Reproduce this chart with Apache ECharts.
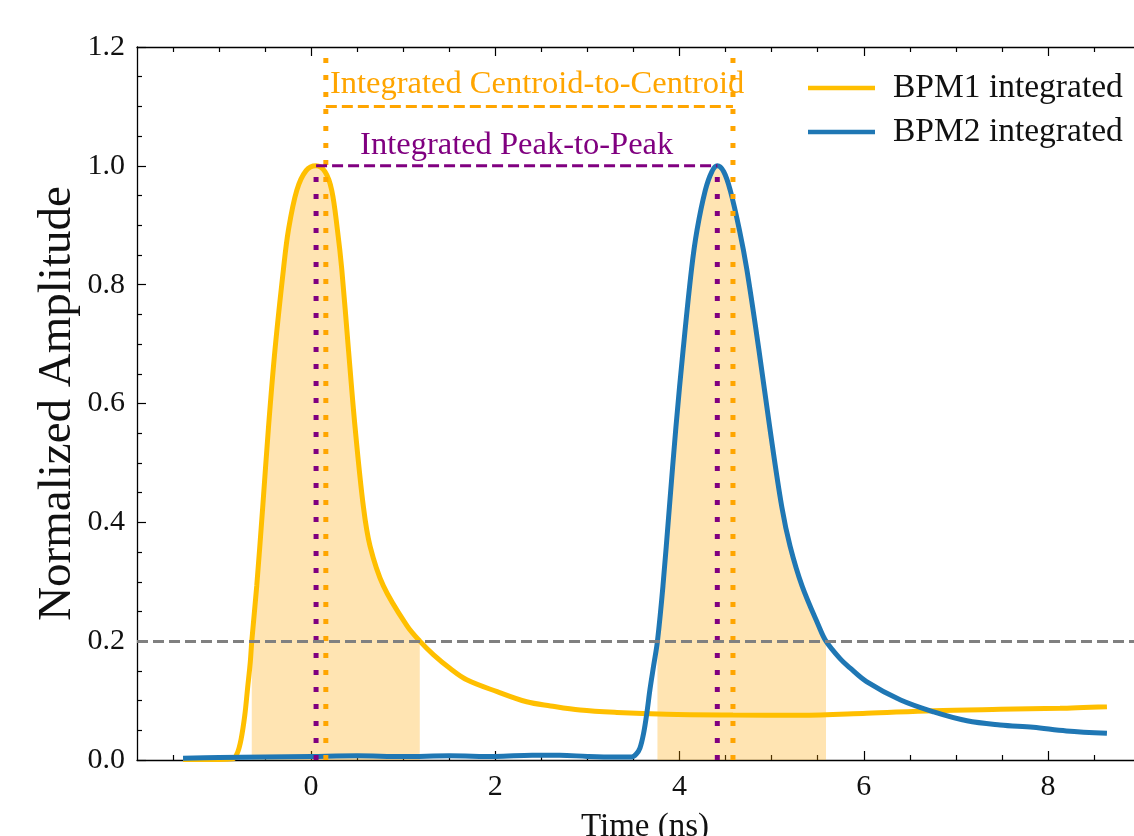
<!DOCTYPE html>
<html>
<head>
<meta charset="utf-8">
<script src="https://cdn.jsdelivr.net/npm/echarts@6/dist/echarts.min.js"></script>
<style>
  html, body { margin: 0; padding: 0; background: #fff; }
  #chart { width: 1134px; height: 836px; }
</style>
</head>
<body>
<div id="chart"></div>
<script>
// ---- data ----
const bpm1Time = [-1.39, -1.0, -0.85, -0.80, -0.76, -0.72, -0.69, -0.66, -0.644, -0.59, -0.525, -0.463, -0.391, -0.30, -0.246, -0.155, -0.054, 0.054, 0.152, 0.224, 0.286, 0.333, 0.405, 0.478, 0.568, 0.64, 0.785, 1.04, 1.18, 1.33, 1.51, 1.69, 2.02, 2.34, 2.6, 2.92, 3.32, 3.86, 4.58, 5.31, 6.03, 6.76, 7.48, 8.13, 8.64];
const bpm1Amp  = [0.001, 0.001, 0.002, 0.012, 0.035, 0.075, 0.12, 0.165, 0.2, 0.293, 0.426, 0.559, 0.692, 0.826, 0.892, 0.959, 0.992, 1.0, 0.99, 0.959, 0.892, 0.826, 0.692, 0.559, 0.426, 0.36, 0.293, 0.226, 0.2, 0.177, 0.154, 0.135, 0.115, 0.098, 0.091, 0.084, 0.080, 0.077, 0.0757, 0.0752, 0.0786, 0.083, 0.0853, 0.087, 0.0897];

const bpm2Time = [-1.39, -1.0, -0.5, 0.0, 0.5, 1.0, 1.5, 2.0, 2.4, 2.7, 3.0, 3.3, 3.48, 3.53, 3.57, 3.61, 3.645, 3.68, 3.72, 3.76, 3.82, 3.89, 3.96, 4.04, 4.13, 4.19, 4.28, 4.35, 4.41, 4.48, 4.55, 4.65, 4.73, 4.86, 4.98, 5.11, 5.20, 5.33, 5.51, 5.59, 5.74, 5.85, 6.03, 6.40, 6.76, 7.12, 7.48, 7.84, 8.2, 8.64];
const bpm2Amp  = [0.003, 0.004, 0.005, 0.006, 0.007, 0.006, 0.007, 0.006, 0.008, 0.008, 0.006, 0.005, 0.005, 0.01, 0.02, 0.045, 0.079, 0.12, 0.16, 0.2, 0.293, 0.426, 0.559, 0.692, 0.826, 0.892, 0.959, 0.99, 1.0, 0.99, 0.959, 0.892, 0.826, 0.692, 0.559, 0.426, 0.36, 0.293, 0.226, 0.2, 0.171, 0.155, 0.132, 0.101, 0.081, 0.066, 0.059, 0.055, 0.049, 0.045];

const peakTimes = [0.054, 4.41];       // BPM1 / BPM2 peak times
const peakLevel = 1.0;
const centroidTimes = [0.16, 4.58];    // integrated centroids
const centroidLevel = 1.1;
const threshold = 0.2;

const xTickLabels = [0, 2, 4, 6, 8];
const seriesNames = ['BPM1 integrated', 'BPM2 integrated'];
const annotationTexts = ['Integrated Centroid-to-Centroid', 'Integrated Peak-to-Peak'];

// ---- build ----
const X_MIN = -1.89, X_MAX = 9.14, Y_MIN = 0, Y_MAX = 1.2;
const FONT = '"Liberation Serif", "Times New Roman", serif';
const C1 = '#FFBF00', C2 = '#1F77B4', ORANGE = '#FFA500', PURPLE = '#800080', GRAY = '#808080';

const pairs = (xs, ys) => xs.map((x, i) => [x, ys[i]]);
const bpm1 = pairs(bpm1Time, bpm1Amp);
const bpm2 = pairs(bpm2Time, bpm2Amp);
const fill1 = bpm1.filter(p => p[1] >= threshold);
const fill2 = bpm2.filter(p => p[1] >= threshold);

const minorTicks = [];
for (let v = -1.5; v <= X_MAX; v += 0.5) {
  if (Math.abs(v % 2) > 1e-9) minorTicks.push(+v.toFixed(2));
}

function xAxisDef(pos, ticks, len, showLine, showLabels) {
  return {
    type: 'value', position: pos, min: X_MIN, max: X_MAX,
    axisLine: { show: showLine, onZero: false, lineStyle: { color: '#000', width: 1.3 } },
    axisTick: { show: true, inside: true, length: len, customValues: ticks, lineStyle: { color: '#000', width: 1.2 } },
    axisLabel: showLabels ? { show: true, customValues: xTickLabels, margin: 12, color: '#111', fontSize: 30, fontFamily: FONT } : { show: false },
    splitLine: { show: false },
    name: showLabels ? 'Time (ns)' : '',
    nameLocation: 'middle', nameGap: 51,
    nameTextStyle: { color: '#111', fontSize: 33, fontFamily: FONT }
  };
}

const smoothVal = 0.35;
const option = {
  animation: false,
  backgroundColor: '#fff',
  grid: { left: 137, right: -19, top: 47, bottom: 76, containLabel: false, outerBoundsMode: 'none' },
  xAxis: [
    xAxisDef('bottom', xTickLabels, 9, true, true),
    xAxisDef('bottom', minorTicks, 5, false, false),
    xAxisDef('top', xTickLabels, 9, true, false),
    xAxisDef('top', minorTicks, 5, false, false)
  ],
  yAxis: [{
    type: 'value', position: 'left', min: Y_MIN, max: Y_MAX, interval: 0.2,
    axisLine: { show: true, onZero: false, lineStyle: { color: '#000', width: 1.3 } },
    axisTick: { show: true, inside: true, length: 9, lineStyle: { color: '#000', width: 1.2 } },
    minorTick: { show: true, splitNumber: 4, length: 5, lineStyle: { color: '#000', width: 1.2 } },
    axisLabel: { margin: 12, color: '#111', fontSize: 30, fontFamily: FONT, formatter: v => v.toFixed(1) },
    splitLine: { show: false },
    name: 'Normalized Amplitude', nameLocation: 'middle', nameGap: 56, nameMoveOverlap: false,
    nameTextStyle: { color: '#111', fontSize: 47, fontFamily: FONT }
  }],
  legend: {
    data: seriesNames.map(n => ({ name: n, icon: 'rect' })),
    orient: 'vertical', left: 808, top: 71, padding: 0,
    itemWidth: 67, itemHeight: 4.5, itemGap: 10,
    itemStyle: { borderWidth: 0 },
    textStyle: { fontSize: 33.5, fontFamily: FONT, color: '#111', lineHeight: 33, padding: [0, 0, 0, 13] }
  },
  series: [
    { type: 'line', data: fill1, smooth: smoothVal, symbol: 'none', silent: true,
      lineStyle: { width: 0, opacity: 0 }, areaStyle: { color: 'rgba(255,165,0,0.3)', opacity: 1, origin: 'start' } },
    { type: 'line', data: fill2, smooth: smoothVal, symbol: 'none', silent: true,
      lineStyle: { width: 0, opacity: 0 }, areaStyle: { color: 'rgba(255,165,0,0.3)', opacity: 1, origin: 'start' } },
    { type: 'line', data: [], symbol: 'none', silent: true,
      markLine: { symbol: 'none', silent: true, label: { show: false },
        lineStyle: { color: GRAY, width: 3, type: [11, 5] }, data: [{ yAxis: threshold }] } },
    { name: seriesNames[0], type: 'line', data: bpm1, smooth: smoothVal, symbol: 'none',
      color: C1, itemStyle: { color: C1 }, lineStyle: { color: C1, width: 5 } },
    { name: seriesNames[1], type: 'line', data: bpm2, smooth: smoothVal, symbol: 'none',
      color: C2, itemStyle: { color: C2 }, lineStyle: { color: C2, width: 5 } },
    // peak verticals (purple dotted)
    ...peakTimes.map(t => ({ type: 'line', symbol: 'none', silent: true, data: [[t, 0], [t, peakLevel]],
      lineStyle: { color: PURPLE, width: 5, type: [5, 12], cap: 'butt' } })),
    // centroid verticals (orange dotted)
    ...centroidTimes.map(t => ({ type: 'line', symbol: 'none', silent: true, data: [[t, 0], [t, Y_MAX]],
      lineStyle: { color: ORANGE, width: 5, type: [5, 12], cap: 'butt' } })),
    { type: 'line', symbol: 'none', silent: true, data: peakTimes.map(t => [t, peakLevel]),
      lineStyle: { color: PURPLE, width: 3, type: [11, 5] } },
    { type: 'line', symbol: 'none', silent: true, data: centroidTimes.map(t => [t, centroidLevel]),
      lineStyle: { color: ORANGE, width: 3, type: [11, 5] } },
    { type: 'scatter', symbolSize: 1, itemStyle: { color: 'rgba(0,0,0,0)' }, silent: true, clip: false,
      data: [[centroidTimes[0] + 0.04, 1.137]],
      label: { show: true, position: 'right', distance: 0, formatter: annotationTexts[0], opacity: 1,
        textBorderWidth: 0, color: ORANGE, fontSize: 32.5, fontFamily: FONT } },
    { type: 'scatter', symbolSize: 1, itemStyle: { color: 'rgba(0,0,0,0)' }, silent: true, clip: false,
      data: [[(peakTimes[0] + peakTimes[1]) / 2, 1.035]],
      label: { show: true, position: 'inside', formatter: annotationTexts[1], opacity: 1,
        textBorderWidth: 0, color: PURPLE, fontSize: 32.5, fontFamily: FONT } }
  ]
};

const chart = echarts.init(document.getElementById('chart'), null, { renderer: 'canvas' });
chart.setOption(option);
</script>
</body>
</html>
